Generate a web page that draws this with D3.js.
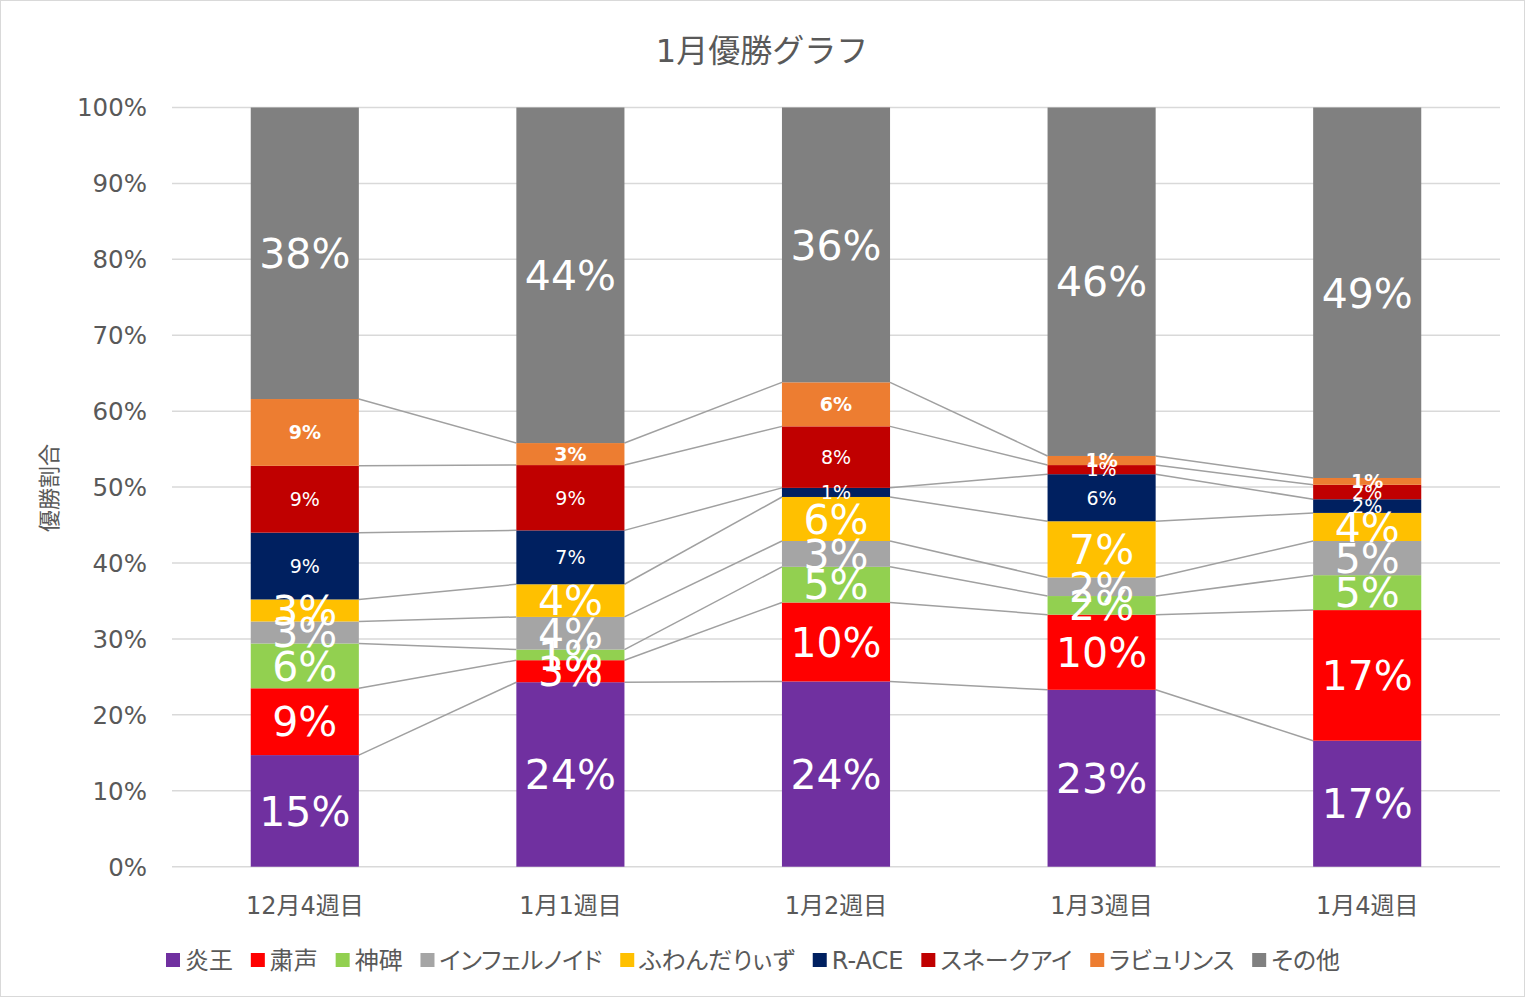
<!DOCTYPE html>
<html><head><meta charset="utf-8">
<script src="https://cdn.jsdelivr.net/npm/d3@7"></script>
<style>
html,body{margin:0;padding:0;background:#fff;}
svg{display:block;font-family:"DejaVu Sans","Noto Sans CJK JP",sans-serif;}
.palt{font-feature-settings:"palt" 1;}
</style></head>
<body>
<svg id="chart" width="1525" height="997"></svg>
<script>
// ---- data ----
const categories = ["12月4週目","1月1週目","1月2週目","1月3週目","1月4週目"];
const seriesNames = ["炎王","粛声","神碑","インフェルノイド","ふわんだりぃず","R-ACE","スネークアイ","ラビュリンス","その他"];
const seriesColors = ["#7030a0","#ff0000","#92d050","#a5a5a5","#ffc000","#002060","#c00000","#ed7d31","#808080"];
// percentage share of each series per week
const enou       = [14.7, 24.3, 24.4, 23.3, 16.6];
const shukusei   = [ 8.8,  2.9, 10.4,  9.9, 17.2];
const shinpi     = [ 5.9,  1.4,  4.7, 2.45,  4.6];
const infernoid  = [ 2.9,  4.3,  3.4, 2.45,  4.5];
const fuwan      = [ 2.9,  4.3,  5.8,  7.4,  3.7];
const race       = [ 8.8,  7.1,  1.2,  6.2,  1.8];
const snakeeye   = [ 8.8,  8.6,  8.1,  1.2,  1.9];
const labrynth   = [ 8.8,  2.9,  5.8,  1.2,  0.9];
const others     = [38.4, 44.2, 36.2, 45.9, 48.8];
const seriesValues = [enou, shukusei, shinpi, infernoid, fuwan, race, snakeeye, labrynth, others];
const yTicks = [0,10,20,30,40,50,60,70,80,90,100];
// label style per series: "big", "small", "bold"
const labelStyle = ["big","big","big","big","big","small","small","bold","big"];

// ---- layout ----
const W = 1525, H = 997;
const plot = {left:172, right:1500, top:107.5, bottom:866.7};
const svg = d3.select("#chart");
const textColor = "#595959";

svg.append("rect").attr("x",0.5).attr("y",0.5).attr("width",W-1).attr("height",H-1)
  .attr("fill","#fff").attr("stroke","#d9d9d9").attr("stroke-width",1);

const x = d3.scaleBand().domain(categories).range([plot.left, plot.right])
  .paddingInner(0.593).paddingOuter(0.2965);
const y = d3.scaleLinear().domain([0,100]).range([plot.bottom, plot.top]);

// table for stack
const table = categories.map((c,i)=>{
  const row = {cat:c};
  seriesNames.forEach((s,k)=>{ row[s] = seriesValues[k][i]; });
  return row;
});
const stacked = d3.stack().keys(seriesNames)(table);

// gridlines
svg.append("g").selectAll("line").data(yTicks).join("line")
  .attr("x1",plot.left).attr("x2",plot.right)
  .attr("y1",d=>y(d)).attr("y2",d=>y(d))
  .attr("stroke","#d9d9d9").attr("stroke-width",1.5);

// y tick labels
svg.append("g").selectAll("text").data(yTicks).join("text")
  .attr("x",147).attr("y",d=>y(d)).attr("dy","0.36em")
  .attr("text-anchor","end").attr("fill",textColor).attr("font-size",24.5)
  .text(d=>d+"%");

// series lines (connecting segment tops between adjacent bars)
const lineG = svg.append("g");
stacked.forEach((layer,k)=>{
  if (k === stacked.length-1) return;
  for (let i=0;i<categories.length-1;i++){
    lineG.append("line")
      .attr("x1", x(categories[i]) + x.bandwidth())
      .attr("y1", y(layer[i][1]))
      .attr("x2", x(categories[i+1]))
      .attr("y2", y(layer[i+1][1]))
      .attr("stroke","#a0a0a0").attr("stroke-width",1.5);
  }
});

// bars
const barG = svg.append("g");
stacked.forEach((layer,k)=>{
  barG.append("g").attr("fill",seriesColors[k]).selectAll("rect").data(layer).join("rect")
    .attr("x",d=>x(d.data.cat)).attr("width",x.bandwidth())
    .attr("y",d=>y(d[1])).attr("height",d=>y(d[0])-y(d[1]));
});

// labels
const labG = svg.append("g");
stacked.forEach((layer,k)=>{
  const st = labelStyle[k];
  labG.append("g").selectAll("text").data(layer).join("text")
    .attr("x",d=>x(d.data.cat)+x.bandwidth()/2)
    .attr("y",d=>(y(d[0])+y(d[1]))/2)
    .attr("dy","0.36em")
    .attr("text-anchor","middle")
    .attr("fill","#fff")
    .attr("font-size", st==="big"?41:19)
    .attr("font-weight", st==="bold"?"bold":"normal")
    .text(d=>Math.round(d[1]-d[0])+"%");
});

// x-axis labels
svg.append("g").selectAll("text").data(categories).join("text")
  .attr("x",d=>x(d)+x.bandwidth()/2).attr("y",914)
  .attr("text-anchor","middle").attr("fill",textColor).attr("font-size",24)
  .text(d=>d);

// title
svg.append("text").attr("x",762).attr("y",62).attr("text-anchor","middle")
  .attr("fill",textColor).attr("font-size",32).text("1月優勝グラフ");

// y axis title
svg.append("text").attr("transform","translate(57,488) rotate(-90)")
  .attr("text-anchor","middle").attr("fill",textColor).attr("font-size",22)
  .text("優勝割合");

// legend
const legG = svg.append("g").attr("class","palt");
const items = seriesNames.map((s,k)=>{
  const g = legG.append("g");
  g.append("rect").attr("x",0).attr("y",-7).attr("width",14).attr("height",14).attr("fill",seriesColors[k]);
  const t = g.append("text").attr("x",19).attr("y",0).attr("dy","0.36em")
    .attr("fill",textColor).attr("font-size",24).text(s);
  return {g, w: 19 + t.node().getComputedTextLength()};
});
const legendLeft = 166, legendRight = 1340;
const gap = Math.max(12, (legendRight - legendLeft - d3.sum(items,d=>d.w)) / (items.length-1));
const total = d3.sum(items,d=>d.w) + gap*(items.length-1);
let cx = 753 - total/2;
items.forEach(it=>{ it.g.attr("transform",`translate(${cx},960)`); cx += it.w + gap; });
</script>
</body></html>
